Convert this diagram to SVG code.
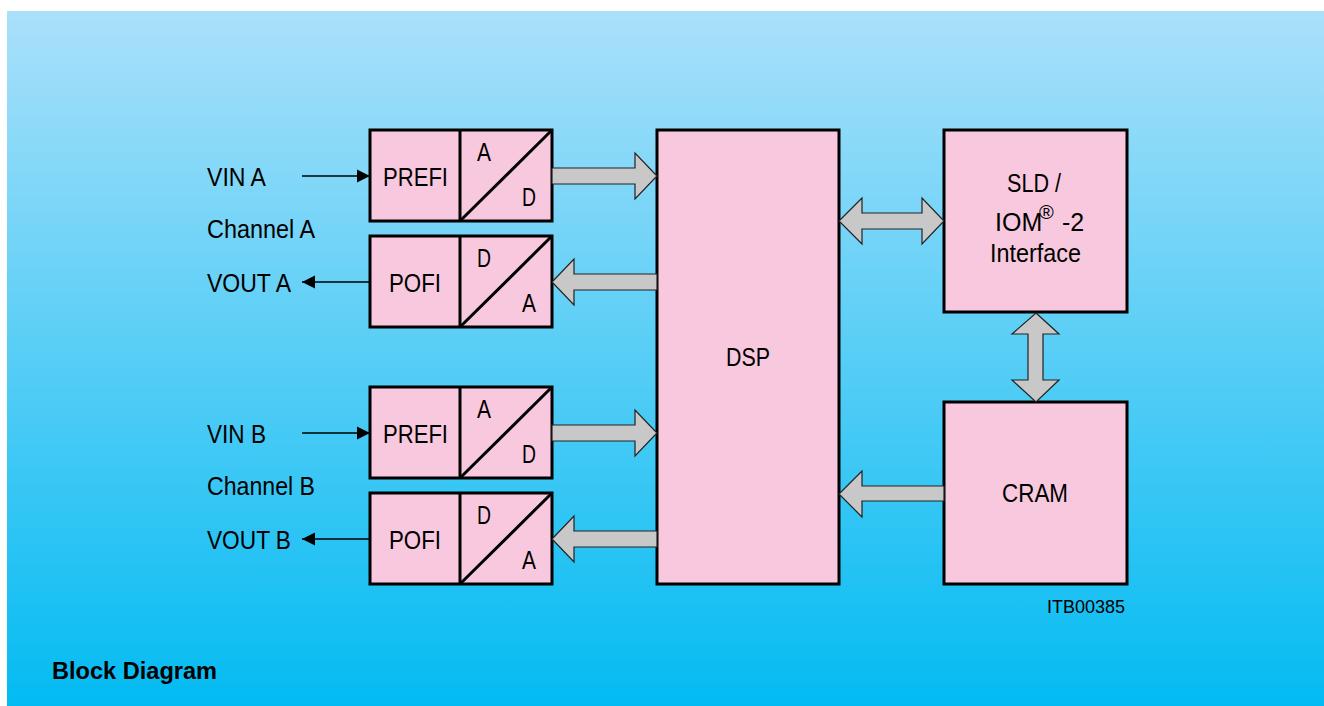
<svg xmlns="http://www.w3.org/2000/svg" width="1324" height="706" viewBox="0 0 1324 706">
<defs>
<linearGradient id="bg" x1="0" y1="0" x2="0" y2="1">
<stop offset="0" stop-color="#aae0fa"/>
<stop offset="1" stop-color="#03bbf2"/>
</linearGradient>
<marker id="ah" viewBox="0 0 10 10" refX="10" refY="5" markerWidth="13" markerHeight="14" markerUnits="userSpaceOnUse" orient="auto">
<path d="M0,0 L10,5 L0,10 Z" fill="#000"/>
</marker>
<style>
.box{fill:#f8c9de;stroke:#000;stroke-width:3}
.div{stroke:#000;stroke-width:3;fill:none}
.t{font-family:"Liberation Sans",Arial,sans-serif;font-size:25px;fill:#000}
.big{fill:#c8c8c8;stroke:#222;stroke-width:1.2}
.thin{stroke:#000;stroke-width:1.5;fill:none}
</style>
</defs>
<rect x="7" y="11" width="1317" height="695" fill="url(#bg)"/>

<g id="prefi-a">
<rect class="box" x="370" y="130" width="182" height="91"/>
<line class="div" x1="460" y1="130" x2="460" y2="221"/>
<line class="div" x1="460" y1="221" x2="552" y2="130"/>
<text class="t" x="383" y="186" textLength="65" lengthAdjust="spacingAndGlyphs">PREFI</text>
<text class="t" x="477" y="161" textLength="14" lengthAdjust="spacingAndGlyphs">A</text>
<text class="t" x="522" y="206" textLength="14" lengthAdjust="spacingAndGlyphs">D</text>
</g>
<g id="pofi-a">
<rect class="box" x="370" y="236" width="182" height="91"/>
<line class="div" x1="460" y1="236" x2="460" y2="327"/>
<line class="div" x1="460" y1="327" x2="552" y2="236"/>
<text class="t" x="389" y="292" textLength="52" lengthAdjust="spacingAndGlyphs">POFI</text>
<text class="t" x="477" y="267" textLength="14" lengthAdjust="spacingAndGlyphs">D</text>
<text class="t" x="522" y="312" textLength="14" lengthAdjust="spacingAndGlyphs">A</text>
</g>
<g id="prefi-b">
<rect class="box" x="370" y="387" width="182" height="91"/>
<line class="div" x1="460" y1="387" x2="460" y2="478"/>
<line class="div" x1="460" y1="478" x2="552" y2="387"/>
<text class="t" x="383" y="443" textLength="65" lengthAdjust="spacingAndGlyphs">PREFI</text>
<text class="t" x="477" y="418" textLength="14" lengthAdjust="spacingAndGlyphs">A</text>
<text class="t" x="522" y="463" textLength="14" lengthAdjust="spacingAndGlyphs">D</text>
</g>
<g id="pofi-b">
<rect class="box" x="370" y="493" width="182" height="91"/>
<line class="div" x1="460" y1="493" x2="460" y2="584"/>
<line class="div" x1="460" y1="584" x2="552" y2="493"/>
<text class="t" x="389" y="549" textLength="52" lengthAdjust="spacingAndGlyphs">POFI</text>
<text class="t" x="477" y="524" textLength="14" lengthAdjust="spacingAndGlyphs">D</text>
<text class="t" x="522" y="569" textLength="14" lengthAdjust="spacingAndGlyphs">A</text>
</g>
<g id="dsp">
<rect class="box" x="657" y="130" width="182" height="454"/>
<text class="t" x="726" y="366" textLength="44" lengthAdjust="spacingAndGlyphs">DSP</text>
</g>
<g id="sld">
<rect class="box" x="944" y="130" width="183" height="182"/>
<text class="t" x="1007" y="192" textLength="54" lengthAdjust="spacingAndGlyphs">SLD /</text>
<text class="t" x="995" y="231">IOM<tspan x="1039" y="219" style="font-size:20px">®</tspan><tspan x="1062" y="231">-2</tspan></text>
<text class="t" x="990" y="262" textLength="91" lengthAdjust="spacingAndGlyphs">Interface</text>
</g>
<g id="cram">
<rect class="box" x="944" y="402" width="183" height="182"/>
<text class="t" x="1002" y="502" textLength="66" lengthAdjust="spacingAndGlyphs">CRAM</text>
</g>

<g id="labels">
<text class="t" x="207" y="186" textLength="59" lengthAdjust="spacingAndGlyphs">VIN A</text>
<text class="t" x="207" y="238" textLength="108" lengthAdjust="spacingAndGlyphs">Channel A</text>
<text class="t" x="207" y="292" textLength="84" lengthAdjust="spacingAndGlyphs">VOUT A</text>
<text class="t" x="207" y="443" textLength="59" lengthAdjust="spacingAndGlyphs">VIN B</text>
<text class="t" x="207" y="495" textLength="108" lengthAdjust="spacingAndGlyphs">Channel B</text>
<text class="t" x="207" y="549" textLength="84" lengthAdjust="spacingAndGlyphs">VOUT B</text>
<text class="t" x="1047" y="613" style="font-size:19px" textLength="78" lengthAdjust="spacingAndGlyphs">ITB00385</text>
<text x="52" y="679" style="font-family:'Liberation Sans',Arial,sans-serif;font-size:23px;font-weight:bold" textLength="165" lengthAdjust="spacingAndGlyphs">Block Diagram</text>
</g>

<g id="connectors">
<line class="thin" x1="302" y1="176" x2="370" y2="176" marker-end="url(#ah)"/>
<line class="thin" x1="370" y1="282" x2="302" y2="282" marker-end="url(#ah)"/>
<line class="thin" x1="302" y1="433" x2="370" y2="433" marker-end="url(#ah)"/>
<line class="thin" x1="370" y1="539" x2="302" y2="539" marker-end="url(#ah)"/>
<path class="big" d="M552,168 L635,168 L635,153 L657,176 L635,199 L635,184 L552,184 Z"/>
<path class="big" d="M657,274 L574,274 L574,259 L552,282 L574,305 L574,290 L657,290 Z"/>
<path class="big" d="M552,425 L635,425 L635,410 L657,433 L635,456 L635,441 L552,441 Z"/>
<path class="big" d="M657,531 L574,531 L574,516 L552,539 L574,562 L574,547 L657,547 Z"/>
<path class="big" d="M839,221 L862,198 L862,213 L922,213 L922,198 L944,221 L922,244 L922,229 L862,229 L862,244 Z"/>
<path class="big" d="M1036,313 L1059,334 L1043,334 L1043,380 L1059,380 L1036,402 L1012,380 L1028,380 L1028,334 L1012,334 Z"/>
<path class="big" d="M944,486 L862,486 L862,471 L839,494 L862,517 L862,501 L944,501 Z"/>
</g>
</svg>
